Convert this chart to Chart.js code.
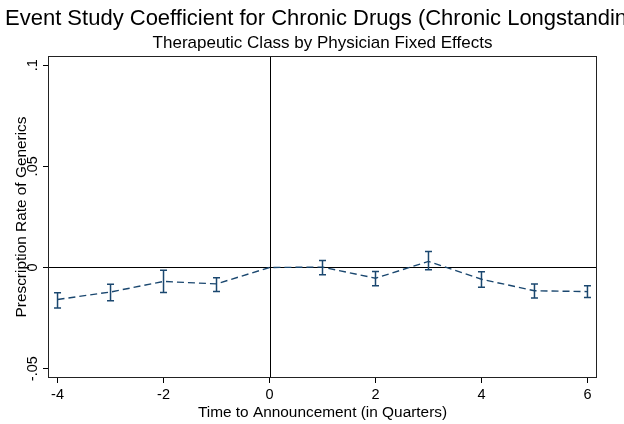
<!DOCTYPE html>
<html>
<head>
<meta charset="utf-8">
<title>Event Study Coefficient</title>
<script src="https://cdn.jsdelivr.net/npm/chart.js@4.4.1/dist/chart.umd.min.js"></script>
<style>
  html, body { margin: 0; padding: 0; background: #fff; }
  #wrap { width: 624px; height: 424px; }
</style>
</head>
<body>
<div id="wrap"><canvas id="chart" width="624" height="424"></canvas></div>
<script>
// Quarters relative to the announcement
const quarters = [-4, -3, -2, -1, 0, 1, 2, 3, 4, 5, 6];
// Point estimates (quarter 0 is the omitted reference period)
const coefficients = [-0.0158, -0.0121, -0.0069, -0.0081, 0, 0.0002, -0.0053, 0.0030, -0.0058, -0.0115, -0.0119];
// 95% confidence bounds
const ciUpper = [-0.0125, -0.0083, -0.0013, -0.0051, null, 0.0035, -0.0020, 0.0079, -0.0021, -0.0082, -0.0090];
const ciLower = [-0.0200, -0.0164, -0.0124, -0.0119, null, -0.0036, -0.0090, -0.0011, -0.0097, -0.0151, -0.0148];

// Axis ticks
const xTickValues = [-4, -2, 0, 2, 4, 6];
const yTickValues = [-0.05, 0, 0.05, 0.1];
const yTickLabels = ['-.05', '0', '.05', '.1'];

const titleText = 'Event Study Coefficient for Chronic Drugs (Chronic Longstanding Conditions)';
const subtitleText = 'Therapeutic Class by Physician Fixed Effects';
const xTitleText = 'Time to Announcement (in Quarters)';
const yTitleText = 'Prescription Rate of Generics';

const FONT = '"Liberation Sans", Arial, Helvetica, sans-serif';
const NAVY = '#1a476f';

const stataFrame = {
  id: 'stataFrame',
  beforeDatasetsDraw(chart) {
    const { ctx, chartArea: a, scales: { x, y } } = chart;
    ctx.save();
    ctx.strokeStyle = '#000';
    ctx.lineWidth = 1;
    const y0 = Math.round(y.getPixelForValue(0)) + 0.5;
    const x0 = Math.round(x.getPixelForValue(0)) + 0.5;
    ctx.beginPath();
    ctx.moveTo(a.left, y0); ctx.lineTo(a.right, y0);
    ctx.moveTo(x0, a.top); ctx.lineTo(x0, a.bottom);
    ctx.stroke();
    ctx.restore();
  },
  afterDatasetsDraw(chart) {
    const { ctx, scales: { x, y } } = chart;
    ctx.save();
    ctx.strokeStyle = NAVY;
    ctx.lineWidth = 1.5;
    const cap = 3.5;
    quarters.forEach((q, i) => {
      if (ciUpper[i] == null || ciLower[i] == null) return;
      const px = x.getPixelForValue(q);
      const top = y.getPixelForValue(ciUpper[i]);
      const bot = y.getPixelForValue(ciLower[i]);
      ctx.beginPath();
      ctx.moveTo(px, top); ctx.lineTo(px, bot);
      ctx.moveTo(px - cap, top); ctx.lineTo(px + cap, top);
      ctx.moveTo(px - cap, bot); ctx.lineTo(px + cap, bot);
      ctx.stroke();
    });
    ctx.restore();
  },
  afterDraw(chart) {
    const { ctx, chartArea: a, scales: { y } } = chart;
    ctx.save();
    // plot region outline
    ctx.strokeStyle = '#222';
    ctx.lineWidth = 1;
    ctx.strokeRect(Math.round(a.left) + 0.5, Math.round(a.top) + 0.5,
                   Math.round(a.right - a.left) - 1, Math.round(a.bottom - a.top) - 1);

    ctx.fillStyle = '#000';
    // titles
    ctx.textAlign = 'left';
    ctx.textBaseline = 'alphabetic';
    ctx.font = '22px ' + FONT;
    ctx.fillText(titleText, 5, 25);
    ctx.textAlign = 'center';
    ctx.font = '17px ' + FONT;
    ctx.fillText(subtitleText, (a.left + a.right) / 2, 48);
    ctx.font = '15.4px ' + FONT;
    ctx.fillText(xTitleText, (a.left + a.right) / 2, 417);

    // rotated y title
    ctx.save();
    ctx.translate(26, (a.top + a.bottom) / 2);
    ctx.rotate(-Math.PI / 2);
    ctx.fillText(yTitleText, 0, 0);
    ctx.restore();

    // rotated y tick labels
    ctx.font = '14.5px ' + FONT;
    yTickValues.forEach((v, i) => {
      const py = y.getPixelForValue(v);
      ctx.save();
      ctx.translate(36.5, py);
      ctx.rotate(-Math.PI / 2);
      ctx.fillText(yTickLabels[i], 0, 0);
      ctx.restore();
    });
    ctx.restore();
  }
};

new Chart(document.getElementById('chart'), {
  type: 'line',
  data: {
    labels: quarters,
    datasets: [{
      data: quarters.map((q, i) => ({ x: q, y: coefficients[i] })),
      borderColor: NAVY,
      borderWidth: 1.4,
      borderDash: [7, 4],
      pointRadius: 0,
      fill: false,
      tension: 0
    }]
  },
  options: {
    responsive: false,
    animation: false,
    devicePixelRatio: 1,
    layout: { padding: { left: 0, top: 56, right: 27, bottom: 0 } },
    plugins: { legend: { display: false }, tooltip: { enabled: false }, title: { display: false } },
    scales: {
      x: {
        type: 'linear',
        min: -4.18,
        max: 6.18,
        afterBuildTicks: s => { s.ticks = xTickValues.map(v => ({ value: v })); },
        afterFit: s => { s.height = 46; },
        border: { display: false },
        grid: { drawOnChartArea: false, drawTicks: true, tickLength: 5, color: '#000' },
        ticks: {
          color: '#000',
          padding: 3,
          maxRotation: 0,
          font: { family: FONT, size: 14.5 },
          callback: v => String(v)
        }
      },
      y: {
        type: 'linear',
        min: -0.0546,
        max: 0.1045,
        afterBuildTicks: s => { s.ticks = yTickValues.map(v => ({ value: v })); },
        afterFit: s => { s.width = 48; },
        border: { display: false },
        grid: { drawOnChartArea: false, drawTicks: true, tickLength: 5, color: '#000' },
        ticks: { display: false }
      }
    }
  },
  plugins: [stataFrame]
});
</script>
</body>
</html>
